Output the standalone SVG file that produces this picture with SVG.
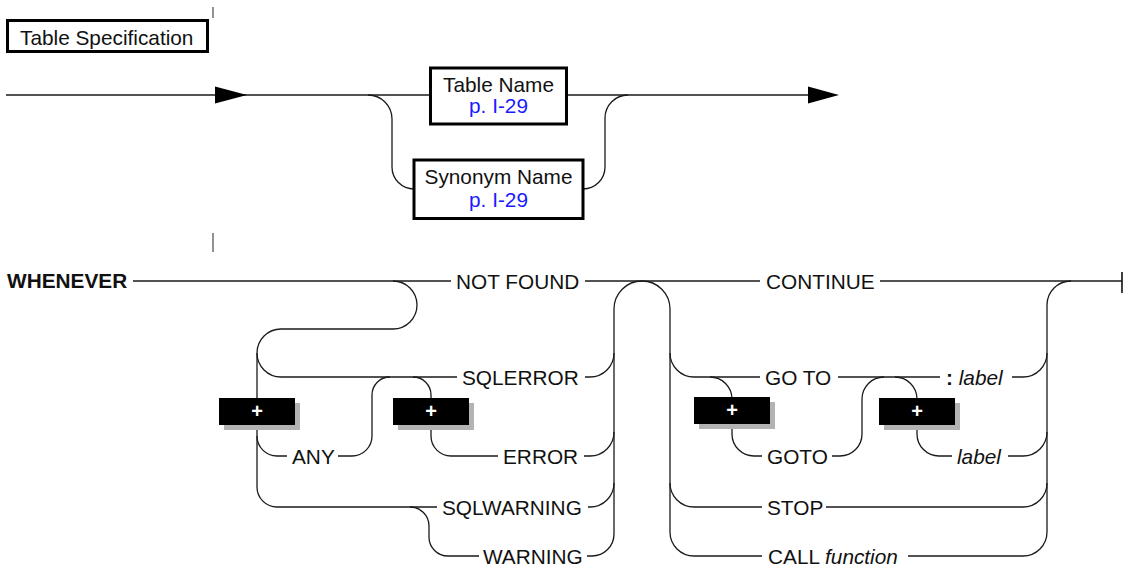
<svg xmlns="http://www.w3.org/2000/svg" width="1124" height="578" viewBox="0 0 1124 578">
<defs>
<style>
text{font-family:"Liberation Sans",Arial,Helvetica,sans-serif;font-size:20.8px;fill:#111}
.b{font-weight:bold}
.i{font-style:italic}
.lnk{fill:#1a1aff}
.mid{text-anchor:middle}
.box{fill:#fff;stroke:#000;stroke-width:3}
.c{fill:none;stroke:#1a1a1a;stroke-width:1.3}
.tick{stroke:#777;stroke-width:1.6}
.arrow{fill:#000}
.plus{fill:#000}
.shadow{fill:#b3b3b3}
.pt{fill:#fff;font-weight:bold;font-size:20px;text-anchor:middle}
</style>
</defs>
<rect width="1124" height="578" fill="#fff"/>

<!-- Top diagram -->
<g id="title">
<rect class="box" x="7.5" y="20.5" width="200" height="31"/>
<text x="20" y="45">Table Specification</text>
</g>
<g id="ticks">
<line class="tick" x1="213" y1="7" x2="213" y2="18"/>
<line class="tick" x1="213" y1="233" x2="213" y2="252"/>
</g>

<g id="connectors">
<!-- top diagram -->
<path class="c" d="M6,95 H431"/>
<path class="c" d="M566,95 H810"/>
<path class="c" d="M368,95 A24,24 0 0 1 392,119 V167 A22,22 0 0 0 414,189"/>
<path class="c" d="M583,189 A22,22 0 0 0 605,167 V118 A23,23 0 0 1 628,95"/>
<polygon class="arrow" points="215,86.5 247,95 215,103.5"/>
<polygon class="arrow" points="808,86.5 839,95 808,103.5"/>

<!-- bottom diagram main line -->
<path class="c" d="M133,281 H451"/>
<path class="c" d="M585,281 H760"/>
<path class="c" d="M880,281 H1122"/>
<line x1="1122" y1="272" x2="1122" y2="293" stroke="#111" stroke-width="1.6"/>

<!-- S curve and left vertical -->
<path class="c" d="M393,281 A24,24 0 0 1 417,305 A24,24 0 0 1 393,329 H281 A24,24 0 0 0 257,353 A24,24 0 0 0 281,377 H457"/>
<path class="c" d="M257,353 V487 A20,20 0 0 0 277,507 H437"/>
<!-- ANY -->
<path class="c" d="M257,436 A20,20 0 0 0 277,456 H287"/>
<path class="c" d="M338,456 H352 A20,20 0 0 0 372,436 V395 A18,18 0 0 1 390,377"/>
<!-- ERROR -->
<path class="c" d="M413,377 A18,18 0 0 1 431,395 V436 A20,20 0 0 0 451,456 H498"/>
<!-- WARNING -->
<path class="c" d="M410,507 A19,19 0 0 1 429,526 V537 A19,19 0 0 0 448,556 H479"/>
<!-- joins to x=614 -->
<path class="c" d="M585,377 H590 A24,24 0 0 0 614,353"/>
<path class="c" d="M584,456 H590 A24,24 0 0 0 614,432"/>
<path class="c" d="M588,507 H590 A24,24 0 0 0 614,483"/>
<path class="c" d="M587,556 H592 A22,22 0 0 0 614,534"/>
<path class="c" d="M614,534 V309 A28,28 0 0 1 642,281 A28,28 0 0 1 670,309 V532"/>
<!-- right dispatch -->
<path class="c" d="M670,353 A24,24 0 0 0 694,377 H760"/>
<path class="c" d="M670,483 A24,24 0 0 0 694,507 H762"/>
<path class="c" d="M670,532 A24,24 0 0 0 694,556 H762"/>
<!-- GOTO -->
<path class="c" d="M710,377 A22,22 0 0 1 732,399 V434 A22,22 0 0 0 754,456 H762"/>
<path class="c" d="M838,377 H940"/>
<path class="c" d="M832,456 H840 A22,22 0 0 0 862,434 V399 A22,22 0 0 1 884,377"/>
<path class="c" d="M895,377 A22,22 0 0 1 917,399 V434 A22,22 0 0 0 939,456 H952"/>
<!-- right collector -->
<path class="c" d="M1012,377 H1023 A24,24 0 0 0 1047,353"/>
<path class="c" d="M1008,456 H1023 A24,24 0 0 0 1047,432"/>
<path class="c" d="M826,507 H1023 A24,24 0 0 0 1047,483"/>
<path class="c" d="M908,556 H1023 A24,24 0 0 0 1047,532"/>
<path class="c" d="M1047,532 V305 A24,24 0 0 1 1071,281"/>
</g>

<g id="table-name">
<rect class="box" x="430.5" y="68" width="136" height="56"/>
<text class="mid" x="498.5" y="92">Table Name</text>
<text class="mid lnk" x="498.5" y="113">p. I-29</text>
</g>
<g id="synonym-name">
<rect class="box" x="414" y="160" width="169" height="58.5"/>
<text class="mid" x="498.5" y="184">Synonym Name</text>
<text class="mid lnk" x="498.5" y="207">p. I-29</text>
</g>

<g id="whenever"><text class="b" x="7" y="288">WHENEVER</text></g>
<g id="not-found"><text x="456" y="289">NOT FOUND</text></g>
<g id="sqlerror"><text x="462" y="385">SQLERROR</text></g>
<g id="any"><text x="292" y="464">ANY</text></g>
<g id="error"><text x="503" y="464">ERROR</text></g>
<g id="sqlwarning"><text x="442" y="515">SQLWARNING</text></g>
<g id="warning"><text x="483" y="564">WARNING</text></g>
<g id="continue"><text x="766" y="289">CONTINUE</text></g>
<g id="go-to"><text x="765" y="385">GO TO</text></g>
<g id="colon-label"><text x="946" y="385"><tspan class="b">:</tspan><tspan class="i"> label</tspan></text></g>
<g id="goto"><text x="767" y="464">GOTO</text></g>
<g id="label"><text class="i" x="957" y="464">label</text></g>
<g id="stop"><text x="767" y="515">STOP</text></g>
<g id="call"><text x="768" y="564">CALL <tspan class="i">function</tspan></text></g>

<g id="plus1">
<rect class="shadow" x="224" y="403" width="76" height="27"/>
<rect class="plus" x="219" y="398" width="76" height="27"/>
<text class="pt" x="257" y="418">+</text>
</g>
<g id="plus2">
<rect class="shadow" x="398" y="403" width="76" height="27"/>
<rect class="plus" x="393" y="398" width="76" height="27"/>
<text class="pt" x="431" y="418">+</text>
</g>
<g id="plus3">
<rect class="shadow" x="699" y="402" width="76" height="27"/>
<rect class="plus" x="694" y="397" width="76" height="27"/>
<text class="pt" x="732" y="417">+</text>
</g>
<g id="plus4">
<rect class="shadow" x="884" y="403" width="76" height="27"/>
<rect class="plus" x="879" y="398" width="76" height="27"/>
<text class="pt" x="917" y="418">+</text>
</g>
</svg>
